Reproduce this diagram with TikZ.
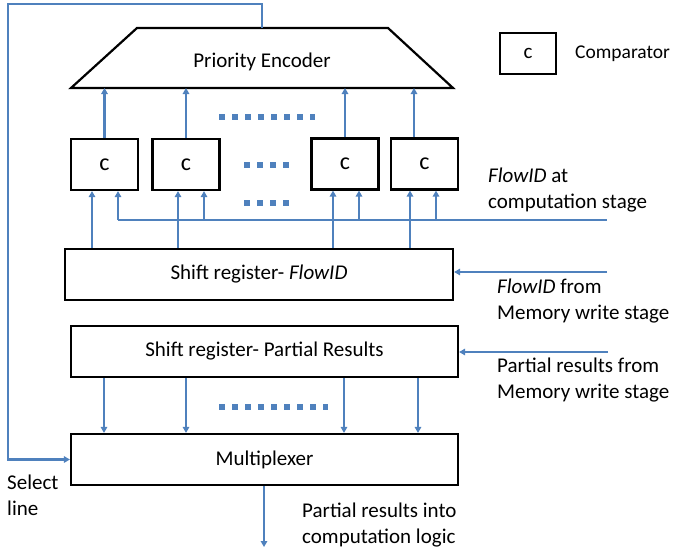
\documentclass[tikz,border=0pt]{standalone}
\usepackage{fontspec}
\setmainfont{Carlito}
\usetikzlibrary{arrows.meta}
\definecolor{lineblue}{HTML}{4F81BD}
\begin{document}
\begin{tikzpicture}[x=1pt,y=-1pt,
  txt/.style={font=\fontsize{21}{26}\selectfont},
  box/.style={draw=black, line width=2.2pt, inner sep=0pt, txt},
  cbox/.style={box, minimum width=67pt, minimum height=51pt, font=\fontsize{24}{28}\selectfont},
  wbox/.style={box, minimum width=388pt, minimum height=51pt},
  conn/.style={draw=lineblue, line width=2.2pt},
  arr/.style={conn, -{Triangle[length=6pt,width=6.5pt]}},
  dots/.style={draw=lineblue, line width=6pt, dash pattern=on 6pt off 7pt},
  lbl/.style={txt, align=left, anchor=west, inner sep=0pt}
]
\useasboundingbox (0,0) rectangle (676,555);

% Priority encoder
\draw[line width=2.2pt, line join=miter] (137,28) -- (388,28) -- (453,88) -- (71,88) -- cycle;
\node[txt] (pe) at (262,62) {Priority Encoder};
\coordinate (petop) at (262,28);
\coordinate (pebot) at (262,88);

% legend
\node[box, minimum width=56pt, minimum height=41pt] (leg) at (528,53.5) {c};
\node[lbl, font=\fontsize{19.5}{24}\selectfont] (legt) at (575,54) {Comparator};

% comparators
\node[cbox] (c1) at (104.5,164.5) {c};
\node[cbox] (c2) at (186,164.5) {c};
\node[cbox] (c3) at (345,164) {c};
\node[cbox] (c4) at (424.5,164) {c};

% shift registers and mux
\node[wbox] (sf) at (259,274.5) {Shift register- \textit{FlowID}};
\node[wbox, minimum width=387pt] (sp) at (264.5,351.5) {Shift register- Partial Results};
\node[wbox, minimum width=387pt] (mux) at (264.5,459.5) {Multiplexer};

% labels
\node[lbl] (l1) at (488,190) {\textit{FlowID} at\\computation stage};
\node[lbl] (l2) at (497,301) {\textit{FlowID} from\\Memory write stage};
\node[lbl] (l3) at (497,380) {Partial results from\\Memory write stage};
\node[lbl] (l4) at (302,525) {Partial results into\\computation logic};
\node[lbl] (l5) at (7,495) {Select\\line};

% comparator -> encoder
\coordinate (u4) at (414,0);
\draw[arr] (c1.north) -- (c1.north |- pebot);
\draw[arr] (c2.north) -- (c2.north |- pebot);
\draw[arr] (c3.north) -- (c3.north |- pebot);
\draw[arr] (c4.north -| u4) -- (u4 |- pebot);

% select line
\coordinate (selA) at (8,4);
\draw[arr] (petop) |- (selA) |- (mux.west);

% comparator inputs from FlowID shift register
\foreach \x/\c in {92/c1,178/c2,333/c3,410/c4}{
  \coordinate (i) at (\x,0);
  \draw[arr] (sf.north -| i) -- (\c.south -| i);
}
% bus from computation stage
\coordinate (b1) at (118,220);
\coordinate (busend) at (607,220);
\draw[conn] (b1) -- (busend);
\foreach \x/\c in {118/c1,204/c2,359/c3,436/c4}{
  \coordinate (j) at (\x,220);
  \draw[arr] (j) -- (\c.south -| j);
}

% inputs to shift registers
\coordinate (fin) at (607,272);
\draw[arr] (fin) -- (fin -| sf.east);
\coordinate (pin) at (608,352);
\draw[arr] (pin) -- (pin -| sp.east);

% shift register -> mux
\foreach \x in {104,186,344,418}{
  \coordinate (d) at (\x,0);
  \draw[arr] (sp.south -| d) -- (mux.north -| d);
}

% output
\coordinate (out) at (264,547);
\draw[arr] (mux.south -| out) -- (out);

% dots
\draw[dots] (219,117) -- (315,117);
\draw[dots] (244,165) -- (290,165);
\draw[dots] (244,203) -- (290,203);
\draw[dots] (219,407) -- (328,407);
\end{tikzpicture}
\end{document}
